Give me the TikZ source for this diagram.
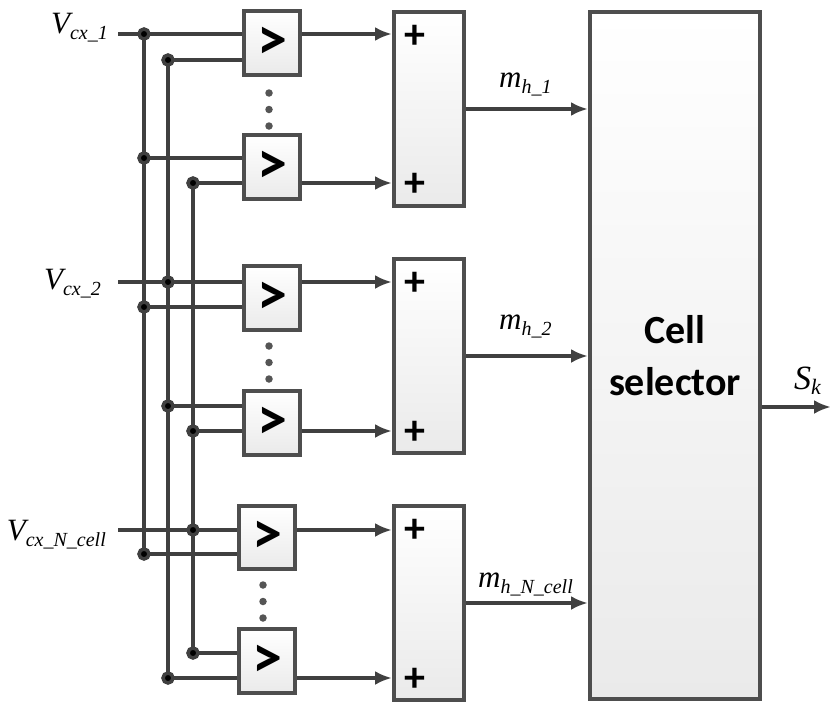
\documentclass[tikz,border=0pt]{standalone}
\usepackage{fontspec}
\setmainfont{Liberation Serif}
\newfontfamily\boxfont{Carlito}
\usepackage{tikz}
\usetikzlibrary{positioning,calc}
\usetikzlibrary{arrows.meta}
\definecolor{WireGray}{RGB}{64,64,64}
\definecolor{BoxGray}{RGB}{78,78,78}
\definecolor{FillGray}{RGB}{234,234,234}
\definecolor{PipGray}{RGB}{85,85,85}
\newcommand{\subl}[1]{\raisebox{-6pt}{\fontsize{20}{20}\selectfont #1}}
\tikzset{
  wire/.style={draw=WireGray,line width=4pt},
  sig/.style={wire,-{Latex[length=17pt,width=14pt]}},
  blk/.style={draw=BoxGray,line width=4pt,top color=white,bottom color=FillGray,inner sep=0pt},
  cmp/.style={blk,minimum width=56pt,minimum height=63.5pt,font=\boxfont\bfseries\fontsize{60}{60}\selectfont},
  sum/.style={blk,minimum width=70pt,minimum height=194pt},
  sel/.style={blk,minimum width=170pt,minimum height=687pt,align=center,font=\boxfont\bfseries\fontsize{40}{52}\selectfont},
}
\tikzset{plus/.style={inner sep=0pt,font=\boxfont\bfseries\fontsize{42}{42}\selectfont}, lbl/.style={inner sep=0pt,font=\fontsize{31}{31}\selectfont\itshape}, dot/.style={circle,fill=black,draw=WireGray,line width=3.5pt,inner sep=0pt,minimum size=10pt}, pip/.style={circle,fill=PipGray,inner sep=0pt,minimum size=7.5pt}}

\begin{document}
\begin{tikzpicture}[x=1pt,y=-1pt]
\useasboundingbox (0,0) rectangle (831,704);
% comparators, adders and selector
\node[cmp] (c1) at (272,43) {>};
\node[cmp] (c2) at (272,167) {>};
\node[cmp] (c3) at (272,298) {>};
\node[cmp] (c4) at (272,423) {>};
\node[cmp] (c5) at (267,537.5) {>};
\node[cmp] (c6) at (267,661) {>};
\node[sum] (s1) at (429,109) {};
\node[sum] (s2) at (429,356) {};
\node[sum] (s3) at (429,603) {};
\node[sel] (cs) at (675,355.5) {Cell\\selector};
\node[plus] (p1) at (415,37) {+};
\node[plus] (p2) at (415,185) {+};
\node[plus] (p3) at (415,284) {+};
\node[plus] (p4) at (415,433) {+};
\node[plus] (p5) at (415,531) {+};
\node[plus] (p6) at (415,680) {+};
% inputs and bus junctions
\coordinate (v1) at (118,34);
\coordinate (v2) at (118,282);
\coordinate (v3) at (118,530);
\coordinate (a1) at (144,34);
\coordinate (a2) at (144,158);
\coordinate (a3) at (144,307);
\coordinate (a4) at (144,554);
\coordinate (b1) at (168,60);
\coordinate (b2) at (168,282);
\coordinate (b3) at (168,406);
\coordinate (b4) at (168,678);
\coordinate (e1) at (193,183);
\coordinate (e2) at (193,431);
\coordinate (e3) at (193,530);
\coordinate (e4) at (193,653);
\coordinate (sk) at (831,407);
% buses
\draw[wire] (a1)--(a4);
\draw[wire] (b1)--(b4);
\draw[wire] (e1)--(e4);
\draw[wire] (v1)--(v1 -| c1.west);
\draw[wire] (b1)--(b1 -| c1.west);
\draw[wire] (a2)--(a2 -| c2.west);
\draw[wire] (e1)--(e1 -| c2.west);
\draw[wire] (v2)--(v2 -| c3.west);
\draw[wire] (a3)--(a3 -| c3.west);
\draw[wire] (b3)--(b3 -| c4.west);
\draw[wire] (e2)--(e2 -| c4.west);
\draw[wire] (v3)--(v3 -| c5.west);
\draw[wire] (a4)--(a4 -| c5.west);
\draw[wire] (e4)--(e4 -| c6.west);
\draw[wire] (b4)--(b4 -| c6.west);
% comparator outputs
\draw[sig] (c1.east |- a1)--(s1.west |- a1);
\draw[sig] (c2.east |- e1)--(s1.west |- e1);
\draw[sig] (c3.east |- v2)--(s2.west |- v2);
\draw[sig] (c4.east |- e2)--(s2.west |- e2);
\draw[sig] (c5.east |- v3)--(s3.west |- v3);
\draw[sig] (c6.east |- b4)--(s3.west |- b4);
\draw[sig] (s1.east)--(cs.west |- s1.east);
\draw[sig] (s2.east)--(cs.west |- s2.east);
\draw[sig] (s3.east)--(cs.west |- s3.east);
\draw[sig] (cs.east |- sk)--(sk);
\foreach \j in {a1,a2,a3,a4,b1,b2,b3,b4,e1,e2,e3,e4}
  \node[dot] (d\j) at (\j) {};
\foreach \g/\x/\y in {1/269/93,2/269/346,3/263/585}
  \foreach \k in {0,1,2}
    \node[pip] (q\g\k) at (\x,\y+16.5*\k) {};
% labels
\node[lbl,anchor=base east] (lv1) at (108,33) {V\subl{cx\_1}};
\node[lbl,anchor=base east] (lv2) at (101,289) {V\subl{cx\_2}};
\node[lbl,anchor=base east] (lv3) at (106,540) {V\subl{cx\_N\_cell}};
\node[lbl,anchor=base west] (lm1) at (499,87) {m\subl{h\_1}};
\node[lbl,anchor=base west] (lm2) at (499,329) {m\subl{h\_2}};
\node[lbl,anchor=base west] (lm3) at (478,587) {m\subl{h\_N\_cell}};
\node[lbl,anchor=base west,font=\fontsize{34}{34}\selectfont\itshape] (lsk) at (794,389) {S\raisebox{-5pt}{\fontsize{22}{22}\selectfont k}};
\end{tikzpicture}
\end{document}
